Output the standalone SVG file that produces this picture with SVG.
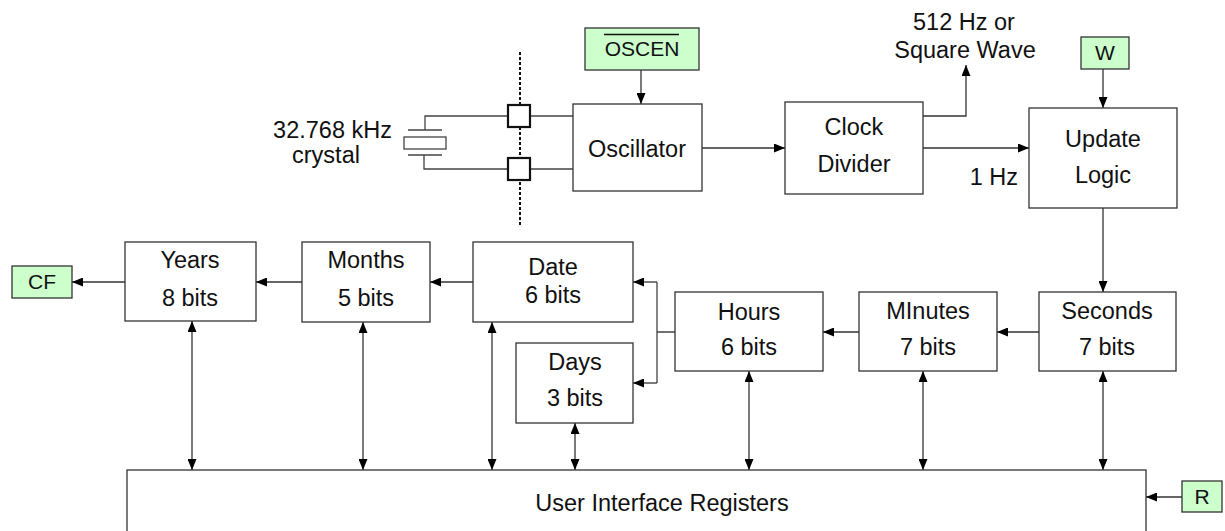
<svg xmlns="http://www.w3.org/2000/svg" width="1225" height="531" viewBox="0 0 1225 531">
<style>
.box{fill:#fff;stroke:#333;stroke-width:1.3}
.sig{fill:#ccffcc;stroke:#333;stroke-width:1.3}
.pin{fill:#fff;stroke:#111;stroke-width:2.2}
.w{fill:none;stroke:#444;stroke-width:1.3}
.a{fill:none;stroke:#333;stroke-width:1.3;marker-end:url(#ah)}
.b{fill:none;stroke:#333;stroke-width:1.3;marker-start:url(#ah2);marker-end:url(#ah)}
text{font-family:"Liberation Sans",Arial,sans-serif;font-size:23.5px;fill:#111;text-anchor:middle}
.s{font-size:21px}
</style>
<defs>
<marker id="ah" markerUnits="userSpaceOnUse" markerWidth="11" markerHeight="9" refX="11" refY="4.5" orient="auto"><path d="M0,0 L11,4.5 L0,9 z" fill="#000"/></marker>
<marker id="ah2" markerUnits="userSpaceOnUse" markerWidth="11" markerHeight="9" refX="11" refY="4.5" orient="auto-start-reverse"><path d="M0,0 L11,4.5 L0,9 z" fill="#000"/></marker>
</defs>

<g id="connectors">
<line x1="520" y1="52" x2="520" y2="227" stroke="#111" stroke-width="2" stroke-dasharray="3,2"/>
<path class="w" d="M425,130 V116 H508 M530,116 H573 M424,155 V169 H508 M530,169 H573"/>
<path class="a" d="M641,70 V104"/>
<path class="a" d="M702,148 H785"/>
<path class="a" d="M923,116 H966 V65"/>
<path class="a" d="M923,148 H1029"/>
<path class="a" d="M1103,69 V108"/>
<path class="a" d="M1103,208 V292"/>
<path class="a" d="M1039,332 H997"/>
<path class="a" d="M859,332 H823"/>
<path class="w" d="M675,332 H657 M657,282 V383"/>
<path class="a" d="M657,282 H633"/>
<path class="a" d="M657,383 H633"/>
<path class="a" d="M473,282 H430"/>
<path class="a" d="M302,282 H256"/>
<path class="a" d="M125,282 H72"/>
<path class="b" d="M192,321 V470"/>
<path class="b" d="M363,322 V470"/>
<path class="b" d="M492,322 V470"/>
<path class="b" d="M575,423 V470"/>
<path class="b" d="M749,371 V470"/>
<path class="b" d="M923,371 V470"/>
<path class="b" d="M1103,371 V470"/>
<path class="a" d="M1182,497 H1146"/>
</g>

<g id="crystal">
<line x1="408" y1="130" x2="442" y2="130" stroke="#444" stroke-width="1.3"/>
<rect x="404" y="137" width="42" height="12" fill="#fff" stroke="#444" stroke-width="1.3"/>
<line x1="408" y1="155" x2="442" y2="155" stroke="#444" stroke-width="1.3"/>
<text x="392" y="138" style="text-anchor:end">32.768 kHz</text>
<text x="326" y="163">crystal</text>
</g>

<g id="pin1"><rect class="pin" x="508" y="105" width="22" height="22"/></g>
<g id="pin2"><rect class="pin" x="508" y="158" width="22" height="22"/></g>

<g id="oscen">
<rect class="sig" x="585" y="28" width="114" height="42"/>
<line x1="604" y1="34.5" x2="679" y2="34.5" stroke="#111" stroke-width="1.3"/>
<text class="s" x="642" y="56">OSCEN</text>
</g>

<g id="oscillator">
<rect class="box" x="573" y="104" width="129" height="87"/>
<text x="637" y="157">Oscillator</text>
</g>

<g id="clockdivider">
<rect class="box" x="785" y="102" width="138" height="92"/>
<text x="854" y="135">Clock</text>
<text x="854" y="172">Divider</text>
</g>

<g id="sqw">
<text x="964" y="30">512 Hz or</text>
<text x="965" y="58">Square Wave</text>
</g>

<g id="onehz"><text x="1018" y="185" style="text-anchor:end">1 Hz</text></g>

<g id="w">
<rect class="sig" x="1081" y="37" width="48" height="32"/>
<text class="s" x="1105" y="60">W</text>
</g>

<g id="updatelogic">
<rect class="box" x="1029" y="108" width="148" height="100"/>
<text x="1103" y="147">Update</text>
<text x="1103" y="183">Logic</text>
</g>

<g id="seconds">
<rect class="box" x="1039" y="292" width="137" height="79"/>
<text x="1107" y="319">Seconds</text>
<text x="1107" y="355">7 bits</text>
</g>

<g id="minutes">
<rect class="box" x="859" y="292" width="138" height="79"/>
<text x="928" y="319">MInutes</text>
<text x="928" y="355">7 bits</text>
</g>

<g id="hours">
<rect class="box" x="675" y="292" width="148" height="79"/>
<text x="749" y="320">Hours</text>
<text x="749" y="355">6 bits</text>
</g>

<g id="date">
<rect class="box" x="473" y="242" width="160" height="80"/>
<text x="553" y="275">Date</text>
<text x="553" y="303">6 bits</text>
</g>

<g id="days">
<rect class="box" x="516" y="343" width="117" height="80"/>
<text x="575" y="370">Days</text>
<text x="575" y="406">3 bits</text>
</g>

<g id="months">
<rect class="box" x="302" y="242" width="128" height="80"/>
<text x="366" y="268">Months</text>
<text x="366" y="306">5 bits</text>
</g>

<g id="years">
<rect class="box" x="125" y="242" width="131" height="79"/>
<text x="190" y="268">Years</text>
<text x="190" y="306">8 bits</text>
</g>

<g id="cf">
<rect class="sig" x="12" y="266" width="60" height="32"/>
<text class="s" x="42" y="289">CF</text>
</g>

<g id="uir">
<rect class="box" x="127" y="470" width="1019" height="90"/>
<text x="662" y="511">User Interface Registers</text>
</g>

<g id="r">
<rect class="sig" x="1182" y="481" width="40" height="31"/>
<text class="s" x="1202" y="504">R</text>
</g>
</svg>
